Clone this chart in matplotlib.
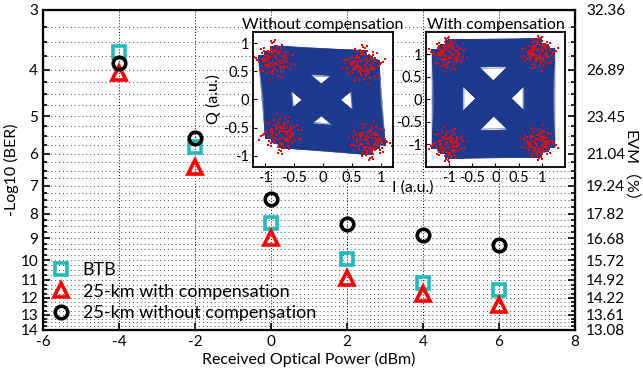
import numpy as np
import matplotlib
matplotlib.use('Agg')
import matplotlib.pyplot as plt
from matplotlib.collections import LineCollection
from matplotlib.ticker import NullFormatter

plt.rcParams['font.family'] = ['Lato', 'Noto Sans CJK SC', 'DejaVu Sans']

# received optical power (dBm) and -log10(BER)
power = [-4, -2, 0, 2, 4, 6]
btb = [3.67, 5.79, 8.36, 9.96, 11.15, 11.55]
with_comp = [4.07, 6.39, 9.00, 10.91, 11.79, 12.41]
without_comp = [3.88, 5.56, 7.45, 8.42, 8.86, 9.30]

ber_ticks = [3, 4, 5, 6, 7, 8, 9, 10, 11, 12, 13, 14]
evm_labels = ['32.36', '26.89', '23.45', '21.04', '19.24', '17.82',
              '16.68', '15.72', '14.92', '14.22', '13.61', '13.08']
x_ticks = [-6, -4, -2, 0, 2, 4, 6, 8]

# QPSK constellation cluster centres (I, Q)
centres_without = [(-0.84, 0.71), (0.69, 0.63), (-0.72, -0.62), (0.80, -0.74)]
centres_with = [(-1.02, 1.02), (0.93, 1.04), (-1.02, -1.00), (0.93, -0.97)]
# symbol scatter around each centre (estimated)
noise_i = [0.02, -0.05, 0.11, -0.13, 0.07, -0.01, 0.16, -0.09, 0.04, -0.18, 0.09, -0.03,
           0.13, -0.07, 0.00, 0.06, -0.11, 0.19, -0.15, 0.03, -0.04, 0.10, -0.08, 0.14,
           -0.02, 0.05, -0.12, 0.08, -0.06, 0.01, 0.12, -0.16, 0.04, -0.10, 0.17, -0.03,
           0.07, -0.14, 0.02, 0.09, -0.05, -0.20, 0.15, -0.01, 0.06, -0.09, 0.11, 0.00]
noise_q = [-0.03, 0.08, 0.01, -0.10, 0.14, -0.06, 0.04, 0.11, -0.15, 0.02, -0.08, 0.17,
           0.05, -0.01, 0.09, -0.12, 0.06, -0.04, 0.00, 0.13, -0.19, 0.07, -0.05, -0.09,
           0.15, -0.02, 0.10, 0.03, -0.13, 0.18, -0.07, 0.01, 0.06, -0.11, 0.04, 0.12,
           -0.16, -0.02, 0.09, -0.06, 0.03, 0.05, -0.04, -0.14, 0.11, 0.08, -0.01, 0.16]


def draw_constellation(ax, centres, line_spread, dot_spread, lim):
    flips = [(1, 1), (-1, 1), (1, -1), (-1, -1)]
    ni = np.array(noise_i)
    nq = np.array(noise_q)
    ends, dots = [], []
    for (ci, cq), (fi, fq) in zip(centres, flips):
        ends.append(np.column_stack([ci + fi * line_spread * ni, cq + fq * line_spread * nq]))
        outer = np.column_stack([ci + fi * dot_spread * ni, cq + fq * dot_spread * nq])
        core = np.column_stack([ci - fq * 0.6 * dot_spread * nq, cq + fi * 0.6 * dot_spread * ni])
        dots.append(np.vstack([outer, core]))
    segs = []
    for a in range(4):
        for b in range(a + 1, 4):
            for p in ends[a]:
                for q in ends[b]:
                    segs.append([p, q])
    ax.add_collection(LineCollection(segs, colors='#1c3a8e', linewidths=0.3))
    allpts = np.vstack(dots)
    ax.plot(allpts[:, 0], allpts[:, 1], 's', color='red', ms=1.7, mew=0)
    ax.set_xlim(-lim, lim)
    ax.set_ylim(-lim, lim)
    ax.set_xticks([-1, -0.5, 0, 0.5, 1], ['-1', '-0.5', '0', '0.5', '1'])
    ax.set_yticks([-1, -0.5, 0, 0.5, 1], ['-1', '-0.5', '0', '0.5', '1'])
    ax.tick_params(direction='in', length=3, labelsize=10.5, pad=3)
    for s in ax.spines.values():
        s.set_linewidth(1.3)


fig = plt.figure(figsize=(6.43, 3.73), dpi=100)
ax = fig.add_axes([0.0669, 0.1153, 0.8273, 0.858])

ax.plot(power, btb, 's', color='#1dbdbd', mfc='none', mew=2.6, ms=9, label='BTB', zorder=3)
ax.plot(power, with_comp, '^', color='red', mfc='none', mew=2.6, ms=9.5,
        label='25-km with compensation', zorder=3)
ax.plot(power, without_comp, 'o', color='black', mfc='none', mew=2.6, ms=9,
        label='25-km without compensation', zorder=3)

ax.set_yscale('log')
ax.set_ylim(14, 3)
ax.set_xlim(-6, 8)
ax.set_xticks(x_ticks, [str(t) for t in x_ticks])
ax.set_yticks(ber_ticks, [str(t) for t in ber_ticks])
ax.set_yticks(list(np.arange(3, 14.01, 0.25)), minor=True)
ax.yaxis.set_minor_formatter(NullFormatter())
ax.grid(True, which='both', axis='y', color='0.3', linestyle=(0, (1, 3)), linewidth=0.7)
ax.grid(True, which='major', axis='x', color='k', linestyle=(0, (1, 2)), linewidth=0.7)
ax.tick_params(which='both', direction='in', labelsize=11, width=1.2)
ax.tick_params(which='major', length=5)
ax.tick_params(which='minor', length=3)
for s in ax.spines.values():
    s.set_linewidth(1.6)
ax.set_xlabel('Received Optical Power (dBm)', fontsize=11.5, labelpad=2)
ax.set_ylabel('-Log10 (BER)', fontsize=11.5, labelpad=1)

ax.legend(loc='lower left', frameon=False, fontsize=13, numpoints=1,
          handlelength=1.0, borderaxespad=0.2, borderpad=0.3,
          handletextpad=0.7, labelspacing=0.3)

ax2 = ax.twinx()
ax2.set_yscale('log')
ax2.set_ylim(14, 3)
ax2.set_yticks(ber_ticks, evm_labels)
ax2.set_yticks(list(np.arange(3, 14.01, 0.25)), minor=True)
ax2.yaxis.set_minor_formatter(NullFormatter())
ax2.tick_params(which='both', direction='in', labelsize=11, width=1.2, pad=8)
ax2.tick_params(which='major', length=5)
ax2.tick_params(which='minor', length=3)
ax2.set_ylabel('EVM（%）', fontsize=11.5, rotation=-90, labelpad=9)

ins1 = fig.add_axes([0.3935, 0.5523, 0.2177, 0.362], zorder=5)
draw_constellation(ins1, centres_without, 1.35, 1.9, 1.2)
ins1.set_title('Without compensation', fontsize=11.5, pad=2)
ins1.set_ylabel('Q (a.u.)', fontsize=11.5, labelpad=1)
ins1.set_xlabel('I (a.u.)', fontsize=11.5)
ins1.xaxis.set_label_coords(1.14, -0.1)

ins2 = fig.add_axes([0.6625, 0.5523, 0.2162, 0.362], zorder=5)
draw_constellation(ins2, centres_with, 1.75, 2.1, 1.5)
ins2.set_title('With compensation', fontsize=11.5, pad=2)

fig.savefig('out.png', dpi=100)
